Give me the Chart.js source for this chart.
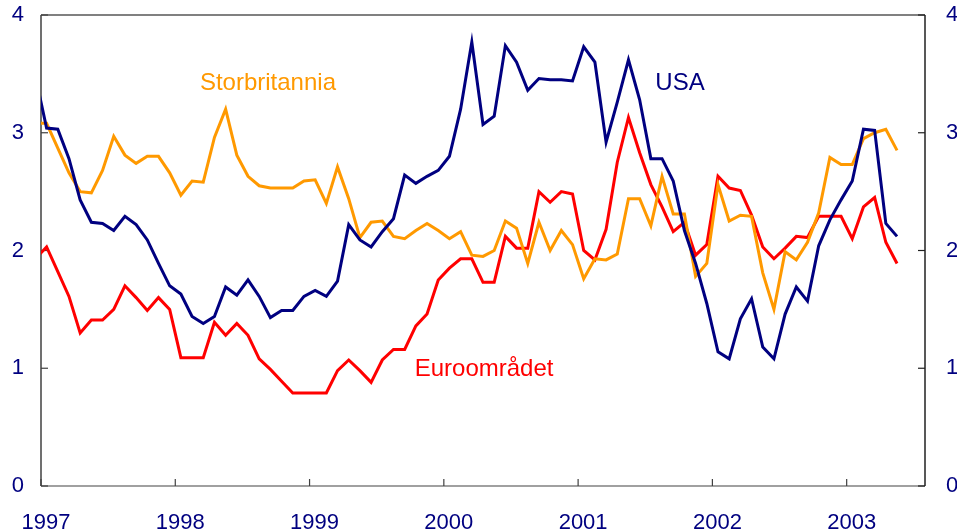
<!DOCTYPE html>
<html>
<head>
<meta charset="utf-8">
<script src="https://cdn.jsdelivr.net/npm/chart.js@4.4.1/dist/chart.umd.min.js"></script>
<style>
  html, body { margin: 0; padding: 0; background: #ffffff; }
  #wrap { width: 957px; height: 530px; }
</style>
</head>
<body>
<div id="wrap"><canvas id="c" width="957" height="530"></canvas></div>
<script>
// Months (Dec 1996 .. May 2003)
const months = [
  '1996-12',
  '1997-01','1997-02','1997-03','1997-04','1997-05','1997-06','1997-07','1997-08','1997-09','1997-10','1997-11','1997-12',
  '1998-01','1998-02','1998-03','1998-04','1998-05','1998-06','1998-07','1998-08','1998-09','1998-10','1998-11','1998-12',
  '1999-01','1999-02','1999-03','1999-04','1999-05','1999-06','1999-07','1999-08','1999-09','1999-10','1999-11','1999-12',
  '2000-01','2000-02','2000-03','2000-04','2000-05','2000-06','2000-07','2000-08','2000-09','2000-10','2000-11','2000-12',
  '2001-01','2001-02','2001-03','2001-04','2001-05','2001-06','2001-07','2001-08','2001-09','2001-10','2001-11','2001-12',
  '2002-01','2002-02','2002-03','2002-04','2002-05','2002-06','2002-07','2002-08','2002-09','2002-10','2002-11','2002-12',
  '2003-01','2003-02','2003-03','2003-04','2003-05'
];

const usa = [
  3.48,
  3.04, 3.03, 2.78, 2.43, 2.24, 2.23, 2.17, 2.29, 2.22, 2.09, 1.89, 1.70,
  1.63, 1.44, 1.38, 1.44, 1.69, 1.62, 1.75, 1.61, 1.43, 1.49, 1.49, 1.61,
  1.66, 1.61, 1.74, 2.22, 2.09, 2.03, 2.16, 2.27, 2.64, 2.57, 2.63, 2.68,
  2.80, 3.20, 3.77, 3.07, 3.14, 3.74, 3.60, 3.36, 3.46, 3.45, 3.45, 3.44,
  3.73, 3.60, 2.92, 3.26, 3.62, 3.28, 2.78, 2.78, 2.59, 2.17, 1.89, 1.55,
  1.14, 1.08, 1.42, 1.59, 1.18, 1.08, 1.46, 1.69, 1.57, 2.04, 2.26, 2.43,
  2.59, 3.03, 3.02, 2.23, 2.12
];

const storbritannia = [
  3.08,
  3.08, 2.87, 2.66, 2.50, 2.49, 2.68, 2.97, 2.81, 2.74, 2.80, 2.80, 2.66,
  2.47, 2.59, 2.58, 2.96, 3.20, 2.81, 2.63, 2.55, 2.53, 2.53, 2.53, 2.59,
  2.60, 2.40, 2.71, 2.44, 2.11, 2.24, 2.25, 2.12, 2.10, 2.17, 2.23, 2.17,
  2.10, 2.16, 1.96, 1.95, 2.00, 2.25, 2.19, 1.89, 2.24, 2.00, 2.17, 2.05,
  1.76, 1.93, 1.92, 1.97, 2.44, 2.44, 2.21, 2.63, 2.31, 2.31, 1.78, 1.89,
  2.56, 2.25, 2.30, 2.29, 1.81, 1.50, 1.99, 1.92, 2.07, 2.32, 2.79, 2.73,
  2.73, 2.95, 3.00, 3.03, 2.85
];

const euroomradet = [
  1.93,
  2.03, 1.82, 1.61, 1.30, 1.41, 1.41, 1.50, 1.70, 1.60, 1.49, 1.60, 1.50,
  1.09, 1.09, 1.09, 1.39, 1.28, 1.38, 1.28, 1.08, 0.99, 0.89, 0.79, 0.79,
  0.79, 0.79, 0.98, 1.07, 0.98, 0.88, 1.07, 1.16, 1.16, 1.36, 1.46, 1.75,
  1.85, 1.93, 1.93, 1.73, 1.73, 2.12, 2.02, 2.02, 2.50, 2.41, 2.50, 2.48,
  2.00, 1.92, 2.18, 2.75, 3.13, 2.83, 2.56, 2.37, 2.16, 2.24, 1.96, 2.05,
  2.63, 2.53, 2.51, 2.30, 2.03, 1.93, 2.02, 2.12, 2.11, 2.29, 2.29, 2.29,
  2.10, 2.37, 2.45, 2.07, 1.89
];

const yearLabels = ['1997','1998','1999','2000','2001','2002','2003'];
const yTicks = [0, 1, 2, 3, 4];
const seriesNames = ['USA', 'Storbritannia', 'Euroområdet'];

// month string -> position in months since 1 Jan 1997 (mid-month)
function monthPos(s) {
  const [y, m] = s.split('-').map(Number);
  return (y - 1997) * 12 + (m - 1) + 0.5;
}
function toPoints(vals) {
  return vals.map((v, i) => ({ x: monthPos(months[i]), y: v }));
}

const NAVY = '#000080', RED = '#ff0000', ORANGE = '#ff9900';
const FONT = "'Liberation Sans', Arial, Helvetica, sans-serif";

// Fixed plot frame inside the 957x530 canvas
const FRAME = { left: 41, right: 925, top: 15, bottom: 486 };

const fixedLayoutPlugin = {
  id: 'fixedLayout',
  afterLayout(chart) {
    const W = chart.width, H = chart.height;
    const a = chart.chartArea;
    a.left = FRAME.left; a.right = FRAME.right; a.top = FRAME.top; a.bottom = FRAME.bottom;
    a.width = a.right - a.left; a.height = a.bottom - a.top;
    const set = (s, l, t, r, b) => {
      s.left = l; s.top = t; s.right = r; s.bottom = b;
      s.width = r - l; s.height = b - t;
      s.configure();
    };
    const { x, y, y2 } = chart.scales;
    set(x, FRAME.left, FRAME.bottom, FRAME.right, H);
    set(y, 0, FRAME.top, FRAME.left, FRAME.bottom);
    set(y2, FRAME.right, FRAME.top, W, FRAME.bottom);
  }
};

const framePlugin = {
  id: 'frame',
  beforeDatasetsDraw(chart) {
    const { ctx, chartArea: a, scales } = chart;
    ctx.save();
    ctx.lineCap = 'butt';
    ctx.strokeStyle = '#808080';
    ctx.lineWidth = 2;
    ctx.beginPath(); ctx.moveTo(a.left, a.top); ctx.lineTo(a.right, a.top); ctx.stroke();
    ctx.lineWidth = 1.5;
    ctx.beginPath(); ctx.moveTo(a.left, a.bottom); ctx.lineTo(a.right, a.bottom); ctx.stroke();
    ctx.strokeStyle = '#404040';
    ctx.beginPath(); ctx.moveTo(a.left, a.top); ctx.lineTo(a.left, a.bottom); ctx.stroke();
    ctx.strokeStyle = '#202020';
    ctx.beginPath(); ctx.moveTo(a.right, a.top); ctx.lineTo(a.right, a.bottom); ctx.stroke();
    const L = 7;
    ctx.lineWidth = 1.2;
    ctx.strokeStyle = '#404040';
    scales.x.ticks.forEach(t => {
      const px = scales.x.getPixelForValue(t.value);
      ctx.beginPath(); ctx.moveTo(px, a.bottom); ctx.lineTo(px, a.bottom - L); ctx.stroke();
    });
    scales.y.ticks.forEach(t => {
      const py = scales.y.getPixelForValue(t.value);
      ctx.beginPath(); ctx.moveTo(a.left, py); ctx.lineTo(a.left + L, py); ctx.stroke();
    });
    ctx.strokeStyle = '#202020';
    scales.y2.ticks.forEach(t => {
      const py = scales.y2.getPixelForValue(t.value);
      ctx.beginPath(); ctx.moveTo(a.right, py); ctx.lineTo(a.right - L, py); ctx.stroke();
    });
    ctx.restore();
  }
};

const seriesLabelPlugin = {
  id: 'seriesLabels',
  afterDatasetsDraw(chart, args, opts) {
    const { ctx, scales } = chart;
    ctx.save();
    ctx.font = '24px ' + FONT;
    ctx.textAlign = 'left';
    ctx.textBaseline = 'alphabetic';
    opts.items.forEach(it => {
      ctx.fillStyle = it.color;
      ctx.fillText(it.text, scales.x.getPixelForValue(it.at[0]), scales.y.getPixelForValue(it.at[1]));
    });
    ctx.restore();
  }
};

const tickFont = { family: FONT, size: 22 };

new Chart(document.getElementById('c'), {
  type: 'line',
  data: {
    datasets: [
      { label: seriesNames[0], data: toPoints(usa), borderColor: NAVY },
      { label: seriesNames[1], data: toPoints(storbritannia), borderColor: ORANGE },
      { label: seriesNames[2], data: toPoints(euroomradet), borderColor: RED }
    ].map(d => Object.assign(d, {
      borderWidth: 3, pointRadius: 0, tension: 0, fill: false, clip: 0, yAxisID: 'y'
    }))
  },
  options: {
    responsive: false,
    animation: false,
    devicePixelRatio: 1,
    layout: { padding: 0 },
    plugins: {
      legend: { display: false },
      tooltip: { enabled: false },
      seriesLabels: {
        items: [
          { text: seriesNames[1], color: ORANGE, at: [14.2, 3.36] },
          { text: seriesNames[0], color: NAVY, at: [54.9, 3.36] },
          { text: seriesNames[2], color: RED, at: [33.4, 0.93] }
        ]
      }
    },
    scales: {
      x: {
        type: 'linear',
        min: 0, max: 79,
        afterBuildTicks: s => { s.ticks = yearLabels.map((_, i) => ({ value: i * 12 })); },
        grid: { display: false },
        border: { display: false },
        ticks: {
          autoSkip: false, maxRotation: 0, minRotation: 0,
          color: NAVY, font: tickFont, padding: 16, labelOffset: 5,
          callback: v => yearLabels[Math.round(v / 12)]
        }
      },
      y: {
        position: 'left',
        min: 0, max: 4,
        afterBuildTicks: s => { s.ticks = yTicks.map(v => ({ value: v })); },
        grid: { display: false },
        border: { display: false },
        ticks: { color: NAVY, font: tickFont, padding: 9, callback: v => String(v) }
      },
      y2: {
        position: 'right',
        min: 0, max: 4,
        afterBuildTicks: s => { s.ticks = yTicks.map(v => ({ value: v })); },
        grid: { display: false },
        border: { display: false },
        ticks: { color: NAVY, font: tickFont, padding: 13, callback: v => String(v) }
      }
    }
  },
  plugins: [fixedLayoutPlugin, framePlugin, seriesLabelPlugin]
});
</script>
</body>
</html>
